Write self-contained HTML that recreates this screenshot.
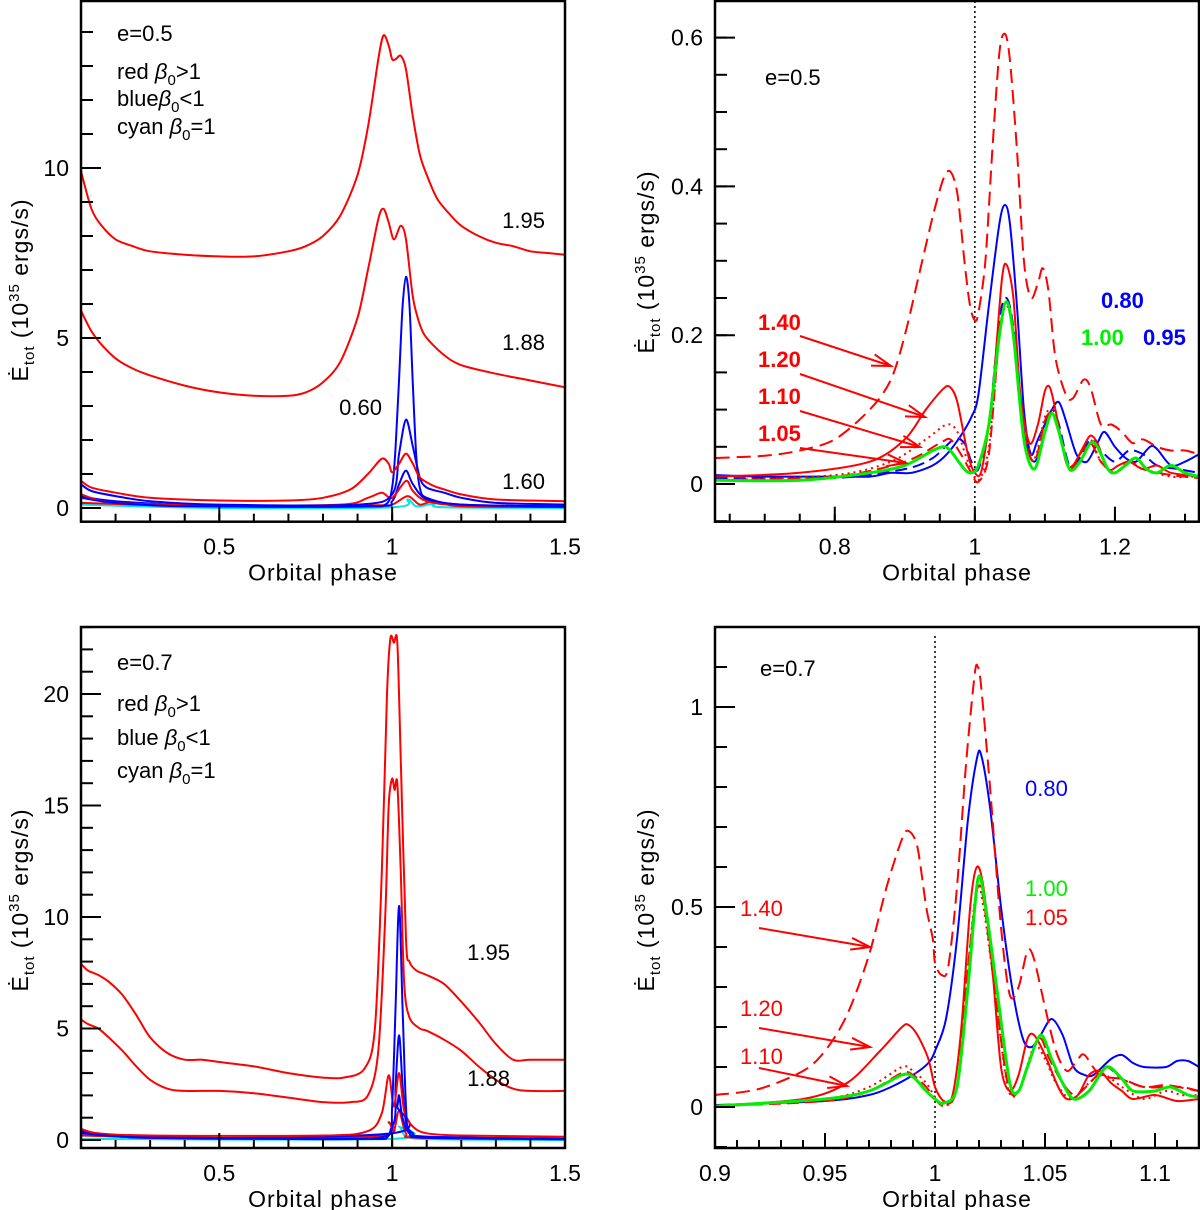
<!DOCTYPE html>
<html><head><meta charset="utf-8"><style>
html,body{margin:0;padding:0;background:#fff;}
svg{display:block;font-family:"Liberation Sans",sans-serif;}
</style></head><body>
<svg id="fig" width="1200" height="1210" viewBox="0 0 1200 1210" xmlns="http://www.w3.org/2000/svg"></svg>
<script>
// ---------- Top-left panel (e=0.5) ----------
const tl195X=[0.1,0.13,0.16,0.2,0.25,0.3,0.4,0.5,0.6,0.7,0.75,0.8,0.85,0.9,0.93,0.96,0.975,0.99,1.0,1.01,1.025,1.04,1.06,1.08,1.1,1.13,1.17,1.2,1.25,1.3,1.35,1.4,1.45,1.5];
const tl195Y=[9.9,8.8,8.3,7.9,7.7,7.55,7.45,7.4,7.4,7.55,7.7,8.0,8.6,9.8,11.2,13.2,13.9,13.6,13.2,13.2,13.3,12.9,11.5,10.4,9.8,9.1,8.6,8.3,8.0,7.8,7.7,7.55,7.5,7.45];
const tl188X=[0.1,0.13,0.16,0.2,0.25,0.3,0.4,0.5,0.6,0.7,0.75,0.8,0.85,0.9,0.93,0.96,0.975,0.99,1.005,1.025,1.04,1.06,1.08,1.1,1.15,1.2,1.3,1.4,1.5];
const tl188Y=[5.8,5.2,4.8,4.4,4.1,3.9,3.6,3.4,3.3,3.3,3.4,3.7,4.3,5.6,7.0,8.5,8.8,8.4,7.9,8.3,7.9,6.2,5.4,5.0,4.5,4.2,3.95,3.75,3.55];
const tlB1X=[0.1,0.2,0.4,0.9,0.98,1.0,1.01,1.02,1.03,1.04,1.05,1.06,1.07,1.08,1.1,1.2,1.5];
const tlB1Y=[0.3,0.15,0.05,0.05,0.1,0.6,1.8,3.8,5.9,6.8,6.0,3.6,1.5,0.6,0.3,0.1,0.05];
const tlB2X=[0.1,0.13,0.2,0.3,0.5,0.9,1.0,1.02,1.04,1.06,1.08,1.1,1.15,1.2,1.3,1.5];
const tlB2Y=[0.7,0.5,0.35,0.2,0.1,0.1,0.4,1.6,2.6,1.8,0.9,0.6,0.45,0.3,0.15,0.1];
const tlB3X=[0.1,0.2,0.5,0.95,1.0,1.02,1.04,1.06,1.1,1.2,1.5];
const tlB3Y=[0.35,0.2,0.05,0.05,0.2,0.7,1.1,0.7,0.25,0.1,0.03];
const tlR160X=[0.1,0.13,0.2,0.3,0.5,0.7,0.8,0.88,0.93,0.97,0.99,1.0,1.02,1.04,1.06,1.08,1.12,1.15,1.2,1.3,1.5];
const tlR160Y=[0.8,0.6,0.45,0.3,0.22,0.22,0.3,0.55,1.0,1.45,1.3,1.05,1.3,1.6,1.3,0.9,0.65,0.55,0.4,0.25,0.2];
const tlR2X=[0.1,0.2,0.5,0.85,0.93,0.97,1.0,1.04,1.06,1.1,1.2,1.5];
const tlR2Y=[0.4,0.15,0.08,0.1,0.3,0.45,0.3,0.8,0.5,0.2,0.08,0.05];
const tlR3X=[0.1,0.5,0.95,1.0,1.045,1.08,1.12,1.2,1.5];
const tlR3Y=[0.15,0.05,0.08,0.1,0.35,0.1,0.2,0.05,0.03];
const tlCX=[0.1,0.5,1.0,1.045,1.07,1.12,1.15,1.5];
const tlCY=[0.1,0.0,0.02,0.25,0.05,0.12,0.02,0.0];
const tlXTicks=[0.5,1,1.5];
const tlYTicks=[0,5,10];

// ---------- Top-right panel (e=0.5 zoom) ----------
const tr140X=[0.63,0.7,0.75,0.8,0.85,0.88,0.9,0.92,0.94,0.955,0.965,0.975,0.985,0.993,1.0,1.005,1.015,1.025,1.035,1.043,1.05,1.06,1.07,1.08,1.09,1.097,1.105,1.115,1.13,1.14,1.155,1.165,1.18,1.195,1.21,1.225,1.24,1.26,1.28,1.3,1.32];
const tr140Y=[0.035,0.038,0.045,0.06,0.1,0.14,0.2,0.28,0.36,0.41,0.42,0.39,0.3,0.24,0.22,0.23,0.3,0.45,0.58,0.605,0.57,0.45,0.3,0.25,0.27,0.29,0.26,0.17,0.12,0.115,0.14,0.13,0.08,0.08,0.07,0.055,0.06,0.05,0.045,0.045,0.04];
const tr120X=[0.63,0.75,0.85,0.9,0.93,0.955,0.965,0.975,0.99,1.0,1.01,1.025,1.038,1.045,1.055,1.065,1.078,1.09,1.1,1.107,1.115,1.13,1.14,1.155,1.165,1.175,1.19,1.205,1.22,1.24,1.26,1.28,1.32];
const tr120Y=[0.01,0.015,0.03,0.06,0.1,0.128,0.13,0.11,0.04,0.015,0.02,0.12,0.27,0.295,0.25,0.12,0.055,0.08,0.125,0.13,0.1,0.03,0.025,0.05,0.065,0.055,0.02,0.025,0.03,0.02,0.025,0.015,0.01];
const tr110X=[0.63,0.8,0.88,0.93,0.96,0.975,0.99,1.005,1.02,1.035,1.045,1.055,1.07,1.085,1.1,1.11,1.12,1.135,1.15,1.165,1.18,1.2,1.22,1.24,1.28,1.32];
const tr110Y=[0.005,0.012,0.03,0.06,0.08,0.07,0.03,0.005,0.05,0.2,0.24,0.2,0.08,0.035,0.09,0.1,0.07,0.02,0.04,0.06,0.03,0.015,0.03,0.02,0.01,0.01];
const tr105X=[0.63,0.8,0.9,0.95,0.965,0.98,0.995,1.005,1.02,1.035,1.045,1.055,1.07,1.085,1.1,1.11,1.12,1.135,1.15,1.165,1.18,1.2,1.22,1.24,1.28,1.32];
const tr105Y=[0.005,0.01,0.03,0.055,0.06,0.04,0.015,0.003,0.04,0.2,0.245,0.2,0.07,0.03,0.085,0.095,0.07,0.02,0.04,0.055,0.03,0.015,0.03,0.02,0.012,0.008];
const tr100X=[0.63,0.75,0.85,0.9,0.94,0.955,0.965,0.985,0.995,1.005,1.02,1.035,1.045,1.055,1.07,1.085,1.1,1.11,1.12,1.135,1.15,1.165,1.175,1.19,1.2,1.215,1.23,1.245,1.26,1.28,1.3,1.32];
const tr100Y=[0.005,0.005,0.015,0.025,0.045,0.05,0.045,0.02,0.015,0.025,0.08,0.2,0.245,0.2,0.06,0.02,0.07,0.095,0.07,0.02,0.03,0.055,0.05,0.02,0.015,0.025,0.035,0.02,0.015,0.025,0.015,0.01];
const tr080X=[0.63,0.7,0.8,0.85,0.88,0.91,0.94,0.96,0.98,0.995,1.005,1.02,1.035,1.043,1.05,1.06,1.07,1.08,1.09,1.11,1.12,1.13,1.145,1.16,1.175,1.185,1.2,1.215,1.23,1.25,1.26,1.28,1.3,1.32];
const tr080Y=[0.012,0.01,0.01,0.01,0.015,0.015,0.025,0.04,0.065,0.09,0.12,0.24,0.35,0.375,0.35,0.24,0.1,0.04,0.06,0.1,0.11,0.085,0.04,0.03,0.055,0.07,0.05,0.035,0.03,0.05,0.047,0.025,0.03,0.04];
const tr095X=[0.63,0.8,0.9,0.94,0.97,0.985,0.995,1.005,1.02,1.035,1.045,1.055,1.07,1.085,1.1,1.11,1.12,1.135,1.15,1.165,1.18,1.2,1.22,1.24,1.26,1.29,1.32];
const tr095Y=[0.008,0.008,0.02,0.035,0.06,0.055,0.03,0.02,0.08,0.22,0.25,0.21,0.07,0.03,0.07,0.1,0.08,0.025,0.035,0.06,0.045,0.03,0.045,0.04,0.025,0.02,0.015];
const trXTicks=[0.8,1,1.2];
const trYTicks=[0,0.2,0.4,0.6];

// ---------- Bottom-left panel (e=0.7) ----------
const bl195X=[0.1,0.12,0.15,0.18,0.22,0.26,0.3,0.35,0.4,0.45,0.5,0.6,0.7,0.8,0.86,0.92,0.95,0.97,0.985,0.995,1.005,1.015,1.025,1.04,1.05,1.07,1.1,1.15,1.2,1.25,1.3,1.35,1.4,1.5];
const bl195Y=[7.9,7.6,7.4,7.1,6.5,5.6,4.6,3.9,3.6,3.6,3.5,3.3,3.0,2.8,2.8,3.2,5,12,20,22.5,22.3,22.3,17,9,8.0,7.6,7.4,7.0,6.2,5.3,4.3,3.6,3.6,3.6];
const bl188X=[0.1,0.12,0.15,0.18,0.22,0.26,0.3,0.35,0.4,0.5,0.6,0.7,0.8,0.88,0.93,0.96,0.98,0.99,1.0,1.007,1.015,1.025,1.035,1.05,1.08,1.1,1.15,1.2,1.25,1.3,1.35,1.4,1.5];
const bl188Y=[5.4,5.2,5.0,4.6,4.0,3.3,2.7,2.3,2.2,2.2,2.1,1.9,1.7,1.7,2.0,4,10,15,16.2,15.7,16,12,7,5.5,5.0,4.9,4.5,4.0,3.3,2.7,2.3,2.2,2.2];
const blB1X=[0.1,0.3,0.9,0.99,1.0,1.01,1.02,1.03,1.04,1.05,1.1,1.5];
const blB1Y=[0.3,0.1,0.05,0.2,1.5,6,10.5,6,1.5,0.4,0.15,0.05];
const blB2X=[0.1,0.2,0.9,1.0,1.01,1.02,1.03,1.04,1.06,1.1,1.5];
const blB2Y=[0.5,0.2,0.05,0.6,2.5,4.7,2.5,0.8,0.3,0.15,0.05];
const blB3X=[0.1,0.3,1.0,1.015,1.02,1.03,1.05,1.1,1.5];
const blB3Y=[0.4,0.1,0.3,1.5,2,1,0.3,0.1,0.03];
const blR1X=[0.1,0.15,0.3,0.8,0.93,0.97,0.99,1.005,1.02,1.035,1.06,1.1,1.2,1.5];
const blR1Y=[0.5,0.3,0.2,0.2,0.4,1.2,2.9,1.5,3.0,1.3,0.6,0.3,0.2,0.15];
const blR2X=[0.1,0.5,0.97,0.99,1.005,1.02,1.04,1.08,1.5];
const blR2Y=[0.2,0.05,0.2,0.8,0.4,1.3,0.3,0.1,0.05];
const blCX=[0.1,1.0,1.02,1.04,1.06,1.08,1.5];
const blCY=[0.05,0.05,0.6,0.1,0.3,0.05,0.0];
const blXTicks=[0.5,1,1.5];
const blYTicks=[0,5,10,15,20];

// ---------- Bottom-right panel (e=0.7 zoom) ----------
const br140X=[0.9,0.92,0.94,0.95,0.96,0.97,0.978,0.985,0.988,0.992,0.996,0.999,1.0,1.003,1.006,1.01,1.014,1.018,1.0195,1.021,1.025,1.03,1.034,1.038,1.042,1.045,1.05,1.055,1.06,1.065,1.068,1.075,1.085,1.095,1.105,1.115,1.12];
const br140Y=[0.03,0.045,0.09,0.14,0.23,0.38,0.55,0.67,0.69,0.65,0.5,0.42,0.36,0.33,0.35,0.55,0.85,1.08,1.1,1.05,0.8,0.45,0.28,0.3,0.39,0.37,0.25,0.14,0.09,0.12,0.13,0.08,0.07,0.05,0.055,0.045,0.04];
const br080X=[0.9,0.95,0.97,0.98,0.99,0.997,1.0,1.005,1.01,1.015,1.019,1.021,1.025,1.03,1.035,1.04,1.044,1.048,1.053,1.058,1.063,1.068,1.072,1.08,1.085,1.09,1.095,1.105,1.11,1.115,1.12];
const br080Y=[0.005,0.015,0.03,0.05,0.08,0.11,0.14,0.22,0.42,0.72,0.87,0.88,0.75,0.5,0.3,0.17,0.15,0.18,0.22,0.18,0.1,0.08,0.08,0.12,0.13,0.11,0.1,0.1,0.115,0.115,0.1];
const br120X=[0.9,0.94,0.96,0.975,0.985,0.988,0.992,0.997,1.0,1.004,1.008,1.012,1.016,1.019,1.022,1.026,1.03,1.034,1.038,1.042,1.045,1.05,1.056,1.06,1.065,1.07,1.075,1.08,1.085,1.09,1.1,1.11,1.12];
const br120Y=[0.003,0.02,0.06,0.14,0.2,0.205,0.18,0.12,0.05,0.015,0.03,0.2,0.5,0.6,0.55,0.35,0.1,0.04,0.08,0.17,0.18,0.13,0.05,0.02,0.03,0.08,0.09,0.06,0.04,0.02,0.03,0.015,0.02];
const br110X=[0.9,0.95,0.97,0.985,0.99,0.996,1.0,1.004,1.01,1.015,1.019,1.022,1.027,1.033,1.038,1.045,1.05,1.055,1.062,1.07,1.077,1.085,1.095,1.105,1.112,1.12];
const br110Y=[0.002,0.02,0.05,0.1,0.09,0.06,0.025,0.003,0.05,0.35,0.55,0.5,0.3,0.05,0.04,0.15,0.12,0.06,0.02,0.06,0.08,0.05,0.02,0.04,0.03,0.03];
const br105X=[0.9,0.95,0.97,0.985,0.99,0.996,1.0,1.004,1.01,1.015,1.019,1.022,1.027,1.033,1.038,1.047,1.052,1.058,1.064,1.072,1.078,1.085,1.095,1.105,1.112,1.12];
const br105Y=[0.002,0.015,0.04,0.085,0.08,0.05,0.02,0.005,0.05,0.35,0.54,0.52,0.3,0.06,0.04,0.17,0.12,0.06,0.03,0.07,0.1,0.07,0.05,0.05,0.05,0.04];
const br100X=[0.9,0.95,0.97,0.985,0.99,0.996,1.0,1.004,1.01,1.015,1.0195,1.023,1.028,1.034,1.038,1.042,1.048,1.053,1.058,1.063,1.07,1.078,1.085,1.09,1.1,1.107,1.115,1.12];
const br100Y=[0.002,0.02,0.04,0.08,0.075,0.04,0.02,0.01,0.05,0.3,0.57,0.5,0.3,0.06,0.04,0.1,0.18,0.12,0.06,0.02,0.04,0.1,0.07,0.04,0.04,0.05,0.03,0.025];
const brXTicks=[0.9,0.95,1,1.05,1.1];
const brXTickLabels=["0.9","0.95","1","1.05","1.1"];
const brYTicks=[0,0.5,1];

const NS="http://www.w3.org/2000/svg";
const svg=document.getElementById('fig');
function mk(tag,attrs,parent){const e=document.createElementNS(NS,tag);for(const k in attrs)e.setAttribute(k,attrs[k]);(parent||svg).appendChild(e);return e;}

function makePanel(o){
  o.sx=v=>o.px0+(v-o.x0)/(o.x1-o.x0)*(o.px1-o.px0);
  o.sy=v=>o.yz-v*o.ky;
  return o;
}
const pTL=makePanel({x0:0.1,x1:1.5,px0:81,px1:565,yz:508,ky:34,top:1,bot:521.7});
const pTR=makePanel({x0:0.629,x1:1.32,px0:715,px1:1199,yz:484,ky:744,top:1,bot:521.7});
const pBL=makePanel({x0:0.1,x1:1.5,px0:81,px1:565,yz:1140,ky:22.3,top:627,bot:1148});
const pBR=makePanel({x0:0.9,x1:1.12,px0:715,px1:1199,yz:1107,ky:400,top:627,bot:1148});

function clip(p,id){
  const d=mk('clipPath',{id:id});
  mk('rect',{x:p.px0,y:p.top,width:p.px1-p.px0,height:p.bot-p.top},d);
}
// smooth path through points (Catmull-Rom, mild tension)
function smoothPath(pts){
  let d='M'+pts[0][0].toFixed(1)+','+pts[0][1].toFixed(1);
  const t=0.15;
  for(let i=0;i<pts.length-1;i++){
    const p0=pts[Math.max(0,i-1)],p1=pts[i],p2=pts[i+1],p3=pts[Math.min(pts.length-1,i+2)];
    const c1x=p1[0]+(p2[0]-p0[0])*t,c1y=p1[1]+(p2[1]-p0[1])*t;
    const c2x=p2[0]-(p3[0]-p1[0])*t,c2y=p2[1]-(p3[1]-p1[1])*t;
    d+='C'+c1x.toFixed(1)+','+c1y.toFixed(1)+' '+c2x.toFixed(1)+','+c2y.toFixed(1)+' '+p2[0].toFixed(1)+','+p2[1].toFixed(1);
  }
  return d;
}
function series(p,g,xs,ys,color,dash,name,w){
  const pts=xs.map((x,i)=>[p.sx(x),p.sy(ys[i])]);
  const e=mk('path',{d:smoothPath(pts),fill:'none',stroke:color,'stroke-width':w||2,'stroke-linejoin':'round'},g);
  if(dash)e.setAttribute('stroke-dasharray',dash);
  
  
}
function frame(p,name,xt,xtl,xMinor,yt,yMinor){
  const g=mk('g',{});
  
  
  const r=mk('rect',{x:p.px0,y:p.top,width:p.px1-p.px0,height:p.bot-p.top,fill:'none',stroke:'#000','stroke-width':2.5},g);
  
  
  for(let v=Math.ceil(p.x0/xMinor-1e-6)*xMinor;v<=p.x1+1e-9;v+=xMinor){
    const x=p.sx(v);
    mk('line',{x1:x,x2:x,y1:p.bot,y2:p.bot-8,stroke:'#000','stroke-width':2},g);
  }
  xt.forEach((v,i)=>{
    const x=p.sx(v);
    mk('line',{x1:x,x2:x,y1:p.bot,y2:p.bot-15,stroke:'#000','stroke-width':2},g);
    const t=mk('text',{x:x,y:p.bot+33,'font-size':23,'text-anchor':'middle',fill:'#000'},g);
    t.textContent=xtl?xtl[i]:String(v);
    
    
  });
  const y0=(p.yz-p.bot)/p.ky, y1=(p.yz-p.top)/p.ky;
  for(let v=Math.ceil(y0/yMinor-1e-6)*yMinor;v<=y1+1e-9;v+=yMinor){
    const y=p.sy(v);
    mk('line',{x1:p.px0,x2:p.px0+12,y1:y,y2:y,stroke:'#000','stroke-width':2},g);
  }
  yt.forEach(v=>{
    const y=p.sy(v);
    mk('line',{x1:p.px0,x2:p.px0+20,y1:y,y2:y,stroke:'#000','stroke-width':2},g);
    const t=mk('text',{x:p.px0-12,y:y+8,'font-size':23,'text-anchor':'end',fill:'#000'},g);
    t.textContent=String(v);
    
    
  });
  const xt2=mk('text',{x:(p.px0+p.px1)/2,y:p.bot+59,'font-size':23,'text-anchor':'middle',fill:'#000','letter-spacing':'1'},g);
  xt2.textContent='Orbital phase';
  
  
}
function ytitle(x,cy){
  const t=mk('text',{x:0,y:0,'font-size':23,'text-anchor':'middle',fill:'#000',transform:`translate(${x},${cy}) rotate(-90)`,'letter-spacing':'1'});
  t.innerHTML='Ė<tspan font-size="15" dy="6">tot</tspan><tspan dy="-6">  (10</tspan><tspan font-size="15" dy="-9">35</tspan><tspan dy="9"> ergs/s)</tspan>';
  
  
}
function label(x,y,txt,color,size,bold,name,anchor){
  const t=mk('text',{x:x,y:y,'font-size':size||22,fill:color||'#000','text-anchor':anchor||'start'});
  if(bold)t.setAttribute('font-weight','bold');
  t.innerHTML=txt;
  
  
}
function arrow(x1,y1,x2,y2,name){
  const g=mk('g',{stroke:'#ff0000','stroke-width':2,fill:'none'});
  
  
  mk('line',{x1:x1,y1:y1,x2:x2,y2:y2},g);
  const a=Math.atan2(y2-y1,x2-x1),L=20,s=0.3;
  mk('path',{d:`M${x2-L*Math.cos(a-s)},${y2-L*Math.sin(a-s)}L${x2},${y2}L${x2-L*Math.cos(a+s)},${y2-L*Math.sin(a+s)}`},g);
}
const beta=(op)=>`<tspan font-style="italic">β</tspan><tspan font-size="15" dy="6">0</tspan><tspan dy="-6">${op}</tspan>`;

const RED='#ff0000',BLUE='#0000ff',CYAN='#00e5e5',GREEN='#00ee00';

// Top-left
clip(pTL,'cTL');
let g=mk('g',{'clip-path':'url(#cTL)'});


series(pTL,g,tlCX,tlCY,CYAN,null,'tl-cyan-line');
series(pTL,g,tlR3X,tlR3Y,RED,null,'tl-red-small-line');
series(pTL,g,tlB3X,tlB3Y,BLUE,null,'tl-blue-small-line');
series(pTL,g,tlR2X,tlR2Y,RED,null,'tl-red-mid-line');
series(pTL,g,tlB2X,tlB2Y,BLUE,null,'tl-blue-mid-line');
series(pTL,g,tlB1X,tlB1Y,BLUE,null,'tl-blue-060-line');
series(pTL,g,tlR160X,tlR160Y,RED,null,'tl-red-160-line');
series(pTL,g,tl188X,tl188Y,RED,null,'tl-red-188-line');
series(pTL,g,tl195X,tl195Y,RED,null,'tl-red-195-line');
frame(pTL,'tl',tlXTicks,null,0.1,tlYTicks,1);
ytitle(28,290);
label(117,41,'e=0.5','#000',22,false,'tl-ecc-label');
label(117,79,'red  '+beta('&gt;1'),'#000',22,false,'tl-legend-red');
label(117,106,'blue'+beta('&lt;1'),'#000',22,false,'tl-legend-blue');
label(117,134,'cyan  '+beta('=1'),'#000',22,false,'tl-legend-cyan');
label(545,228,'1.95','#000',22,false,'tl-label-195','end');
label(545,350,'1.88','#000',22,false,'tl-label-188','end');
label(382,415,'0.60','#000',22,false,'tl-label-060','end');
label(545,489,'1.60','#000',22,false,'tl-label-160','end');

// Top-right
clip(pTR,'cTR');
g=mk('g',{'clip-path':'url(#cTR)'});


mk('line',{x1:pTR.sx(1),x2:pTR.sx(1),y1:pTR.top,y2:pTR.bot,stroke:'#000','stroke-width':1.5,'stroke-dasharray':'2,3'},g);
series(pTR,g,tr095X,tr095Y,BLUE,'12,6','tr-blue-095-line');
series(pTR,g,tr080X,tr080Y,BLUE,null,'tr-blue-080-line');
series(pTR,g,tr105X,tr105Y,RED,'12,6','tr-red-105-line');
series(pTR,g,tr110X,tr110Y,RED,'2,4','tr-red-110-line');
series(pTR,g,tr120X,tr120Y,RED,null,'tr-red-120-line');
series(pTR,g,tr140X,tr140Y,RED,'14,7','tr-red-140-line');
series(pTR,g,tr100X,tr100Y,GREEN,null,'tr-green-100-line',3);
frame(pTR,'tr',trXTicks,null,0.05,trYTicks,0.05);
ytitle(654,262);
label(765,85,'e=0.5','#000',22,false,'tr-ecc-label');
label(758,330,'1.40',RED,22,true,'tr-label-140');
label(758,367,'1.20',RED,22,true,'tr-label-120');
label(758,404,'1.10',RED,22,true,'tr-label-110');
label(758,441,'1.05',RED,22,true,'tr-label-105');
arrow(800,336,891,366,'tr-arrow-140');
arrow(800,374,925,417,'tr-arrow-120');
arrow(800,411,920,447,'tr-arrow-110');
arrow(800,448,906,463,'tr-arrow-105');
label(1101,308,'0.80',BLUE,22,true,'tr-label-080');
label(1081,345,'1.00',GREEN,22,true,'tr-label-100');
label(1143,345,'0.95',BLUE,22,true,'tr-label-095');

// Bottom-left
clip(pBL,'cBL');
g=mk('g',{'clip-path':'url(#cBL)'});


series(pBL,g,blCX,blCY,CYAN,null,'bl-cyan-line');
series(pBL,g,blR2X,blR2Y,RED,null,'bl-red-small-line');
series(pBL,g,blB3X,blB3Y,BLUE,null,'bl-blue-small-line');
series(pBL,g,blB2X,blB2Y,BLUE,null,'bl-blue-mid-line');
series(pBL,g,blR1X,blR1Y,RED,null,'bl-red-mid-line');
series(pBL,g,blB1X,blB1Y,BLUE,null,'bl-blue-big-line');
series(pBL,g,bl188X,bl188Y,RED,null,'bl-red-188-line');
series(pBL,g,bl195X,bl195Y,RED,null,'bl-red-195-line');
frame(pBL,'bl',blXTicks,null,0.1,blYTicks,1);
ytitle(28,900);
label(117,670,'e=0.7','#000',22,false,'bl-ecc-label');
label(117,711,'red  '+beta('&gt;1'),'#000',22,false,'bl-legend-red');
label(117,745,'blue  '+beta('&lt;1'),'#000',22,false,'bl-legend-blue');
label(117,778,'cyan  '+beta('=1'),'#000',22,false,'bl-legend-cyan');
label(510,960,'1.95','#000',22,false,'bl-label-195','end');
label(510,1086,'1.88','#000',22,false,'bl-label-188','end');

// Bottom-right
clip(pBR,'cBR');
g=mk('g',{'clip-path':'url(#cBR)'});


mk('line',{x1:pBR.sx(1),x2:pBR.sx(1),y1:636,y2:1128,stroke:'#000','stroke-width':1.5,'stroke-dasharray':'2,3'},g);
series(pBR,g,br080X,br080Y,BLUE,null,'br-blue-080-line');
series(pBR,g,br105X,br105Y,RED,'12,6','br-red-105-line');
series(pBR,g,br110X,br110Y,RED,'2,4','br-red-110-line');
series(pBR,g,br120X,br120Y,RED,null,'br-red-120-line');
series(pBR,g,br140X,br140Y,RED,'14,7','br-red-140-line');
series(pBR,g,br100X,br100Y,GREEN,null,'br-green-100-line',3);
frame(pBR,'br',brXTicks,brXTickLabels,0.01,brYTicks,0.1);
ytitle(654,900);
label(760,676,'e=0.7','#000',22,false,'br-ecc-label');
label(1025,796,'0.80',BLUE,22,false,'br-label-080');
label(1025,896,'1.00',GREEN,22,false,'br-label-100');
label(1025,925,'1.05',RED,22,false,'br-label-105');
label(740,916,'1.40',RED,22,false,'br-label-140');
label(740,1016,'1.20',RED,22,false,'br-label-120');
label(740,1064,'1.10',RED,22,false,'br-label-110');
arrow(759,928,870,947,'br-arrow-140');
arrow(759,1028,870,1047,'br-arrow-120');
arrow(759,1068,847,1086,'br-arrow-110');
</script>
</body></html>
